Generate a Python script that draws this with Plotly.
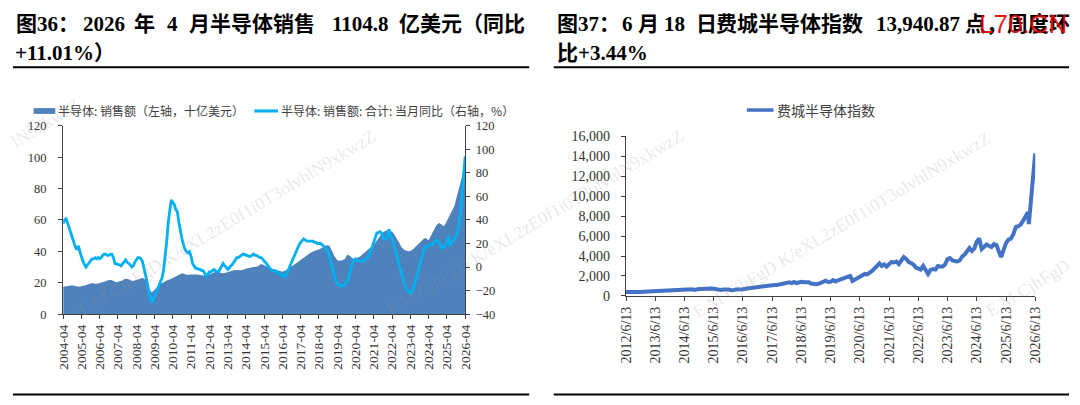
import pandas as pd
import plotly.graph_objects as go

# ---------------- Figure 36: monthly semiconductor sales ----------------
sales_start = "2004-04-01"
# 3MMA sales, USD bn (left axis), 2004-04 .. 2026-04
sales_bn = [
    17.4, 17.6, 17.8, 18.0, 18.3, 18.5, 18.4, 18.1, 17.8, 17.6, 17.5, 17.6,
    17.7, 17.9, 18.2, 18.6, 19.0, 19.4, 19.7, 19.8, 19.6, 19.4, 19.3, 19.6,
    19.8, 20.0, 20.3, 20.6, 21.0, 21.4, 21.7, 21.9, 21.6, 21.1, 20.5, 20.4,
    20.6, 20.8, 21.1, 21.5, 22.2, 22.6, 22.5, 22.1, 21.6, 21.3, 21.2, 21.5,
    21.9, 22.3, 22.7, 23.0, 23.1, 22.8, 22.0, 20.4, 17.8, 15.2, 14.0, 14.4,
    15.6, 16.6, 17.6, 18.5, 19.3, 19.9, 20.5, 21.1, 21.6, 21.9, 22.1, 22.6,
    23.2, 23.8, 24.3, 24.8, 25.3, 25.8, 26.0, 25.7, 25.3, 25.0, 24.9, 25.2,
    25.3, 25.1, 25.2, 25.4, 25.3, 25.1, 24.9, 24.7, 24.6, 24.5, 24.6, 24.9,
    25.5, 26.0, 26.3, 26.6, 27.0, 26.8, 26.5, 26.1, 25.9, 26.0, 26.3, 26.5,
    26.6, 26.8, 27.1, 27.4, 27.9, 28.2, 28.1, 27.9, 27.7, 27.9, 28.3, 28.7,
    29.0, 29.2, 29.4, 29.6, 29.8, 30.0, 29.9, 30.1, 30.6, 31.3, 32.0, 31.6,
    31.1, 30.6, 30.2, 29.8, 29.4, 29.0, 28.8, 28.6, 28.3, 27.9, 27.6, 27.4,
    27.0, 27.2, 27.8, 28.5, 29.3, 30.0, 30.6, 31.2, 31.8, 32.5, 33.1, 33.7,
    34.6, 35.3, 36.0, 36.8, 37.5, 38.2, 38.8, 39.4, 39.9, 40.2, 40.6, 41.0,
    41.2, 41.6, 42.2, 42.8, 43.4, 43.8, 44.0, 43.2, 41.5, 39.5, 37.0, 35.5,
    34.5, 34.1, 34.0, 34.2, 34.6, 35.2, 37.0, 38.0, 37.4, 36.4, 35.6, 35.2,
    35.4, 35.8, 36.2, 36.8, 37.6, 38.4, 39.2, 40.0, 41.0, 42.0, 42.6, 43.3,
    44.2, 45.5, 47.0, 48.5, 49.8, 51.0, 52.0, 52.8, 53.3, 53.5, 53.3, 53.0,
    52.5, 51.5, 50.0, 48.5, 47.0, 45.0, 43.0, 41.8, 41.0, 40.5, 40.0, 40.0,
    40.3, 40.8, 41.5, 42.5, 43.5, 44.5, 45.5, 46.5, 47.5, 48.2, 48.5, 47.8,
    47.0, 49.0, 51.0, 53.0, 55.0, 56.5, 57.5, 58.0, 57.5, 56.5, 56.0, 57.5,
    59.5, 61.5, 63.0, 65.0, 67.0, 69.0, 73.0, 77.0, 81.0, 84.0, 88.0, 91.0,
    95.0,
]
# YoY %, right axis, 2004-04 .. 2026-04
sales_yoy = [
    37, 40, 41, 37, 33, 28, 24, 20, 17, 15, 18, 13,
    8, 5, 2, 0, 2, 4, 6, 7, 7, 8, 7, 8,
    7, 8, 10, 11, 11, 10, 10, 11, 11, 8, 3, 3,
    2, 2, 1, 3, 5, 6, 4, 3, 2, 0, 1, 4,
    6, 8, 8, 7, 5, 0, -5, -12, -19, -26, -30, -28,
    -25, -22, -19, -16, -13, -9, -2, 8, 22, 38, 50, 57,
    55, 53, 49, 47, 38, 30, 24, 19, 15, 13, 12, 13,
    9, 3, 1, -1, -1, -2, -2, -3, -3, -5, -8, -6,
    -4, -4, -3, -2, -3, -4, -4, -2, 0, 3, 1, 0,
    -2, -1, 1, 2, 4, 6, 8, 8, 9, 10, 11, 11,
    10, 10, 9, 9, 10, 11, 10, 10, 9, 8, 8, 7,
    5, 4, 2, 0, -2, -3, -3, -3, -4, -5, -6, -6,
    -7, -7, -8, -5, -2, 1, 5, 8, 11, 14, 17, 19,
    21, 23, 24, 23, 22, 22, 22, 22, 22, 21, 21, 20,
    20, 20, 19, 18, 16, 15, 13, 8, 3, -2, -8, -11,
    -14, -15, -16, -16, -16, -15, -13, -11, -6, -1, 4, 6,
    7, 6, 5, 5, 5, 5, 6, 7, 8, 10, 13, 17,
    21, 26, 29, 29, 30, 29, 25, 24, 24, 27, 32, 26,
    24, 20, 15, 10, 5, 0, -5, -9, -14, -17, -20, -21,
    -22, -21, -18, -14, -9, -4, 1, 6, 11, 15, 17, 18,
    18, 19, 19, 20, 21, 23, 22, 21, 18, 16, 17, 18,
    21, 27, 19, 20, 22, 24, 26, 30, 36, 47, 62, 78,
    94,
]
x1_ticktext = ["2004-04", "2005-04", "2006-04", "2007-04", "2008-04", "2009-04",
               "2010-04", "2011-04", "2012-04", "2013-04", "2014-04", "2015-04",
               "2016-04", "2017-04", "2018-04", "2019-04", "2020-04", "2021-04",
               "2022-04", "2023-04", "2024-04", "2025-04", "2026-04"]
legend_sales = "半导体: 销售额（左轴，十亿美元）"
legend_yoy = "半导体: 销售额: 合计: 当月同比（右轴，%）"

# ---------------- Figure 37: Philadelphia Semiconductor Index ----------------
sox_first_month = "2012-06-13"
sox_monthly = [
    390, 375, 405, 420, 385, 365, 390,
    415, 430, 445, 440, 490, 475, 505, 495, 510, 530, 545, 560,
    565, 575, 595, 590, 610, 635, 650, 665, 670, 590, 680, 680,
    680, 715, 705, 700, 745, 720, 665, 640, 600, 630, 690, 650,
    600, 560, 650, 640, 660, 665, 720, 760, 770, 790, 820, 880,
    910, 960, 990, 1000, 1080, 1080, 1100, 1100, 1150, 1240, 1310, 1260,
    1370, 1290, 1400, 1290, 1380, 1420, 1380, 1360, 1370, 1240, 1180, 1170,
    1220, 1350, 1400, 1530, 1390, 1410, 1590, 1450, 1570, 1600, 1730, 1830,
    1930, 1990, 1500, 1650, 1780, 1980, 2100, 2200, 2150, 2300, 2500, 2750,
    3050, 3250, 3000, 3150, 2950, 3200, 3400, 3350, 3450, 3200, 3650, 3900,
    3700, 3400, 3300, 3150, 2850, 2700, 2650, 3000, 2500, 2200, 2600, 2700,
    2650, 3000, 2950, 2950, 3150, 3700, 3800, 3550, 3500, 3450, 3550, 3950,
    4150, 4450, 4800, 4500, 4750, 5450, 5750, 4700, 4900, 5150, 5000, 4900,
    5200, 5100, 4500, 3900, 4600, 5300, 5650, 5750, 6200, 6900, 7000, 7150,
    7550, 8000, 8400,
]
sox_extra_dates = ["2026-03-25", "2026-04-13", "2026-04-27", "2026-05-13",
                   "2026-05-27", "2026-06-05", "2026-06-12"]
sox_extra = [7200, 9000, 10800, 12300, 12600, 13600, 14300]
x3_tickvals = ["2012-06-13", "2013-06-13", "2014-06-13", "2015-06-13", "2016-06-13",
               "2017-06-13", "2018-06-13", "2019-06-13", "2020-06-13", "2021-06-13",
               "2022-06-13", "2023-06-13", "2024-06-13", "2025-06-13", "2026-06-13"]
x3_ticktext = ["2012/6/13", "2013/6/13", "2014/6/13", "2015/6/13", "2016/6/13",
               "2017/6/13", "2018/6/13", "2019/6/13", "2020/6/13", "2021/6/13",
               "2022/6/13", "2023/6/13", "2024/6/13", "2025/6/13", "2026/6/13"]
legend_sox = "费城半导体指数"

title36_line1 = [("图36：", 6), ("2026", 74), ("年", 126), ("4", 159),
                 ("月半导体销售", 182), ("1104.8", 327), ("亿美元（同比", 395)]
title36_line2 = "+11.01%）"
title37_line1 = [("图37：", 555), ("6", 621), ("月", 637), ("18", 664), ("日", 696),
                 ("费城半导体指数", 717), ("13,940.87", 879), ("点，周度环", 969)]
title37_line2 = "比+3.44%"
overlay_mark = "L70.CN"
watermark = "E M CjhFgD K/eXL2zE0f1i0T3olvhlN9xkwzZ"
watermark_head = "E M CjhFgD"
watermark_tail = "lN9xkwzZ"

# ---------------- build ----------------
W, H = 1080, 405
def px(x): return x / W
def py(y): return 1 - y / H

months = pd.date_range(sales_start, periods=len(sales_bn), freq="MS")
x1_tickvals = [t + "-01" for t in x1_ticktext]
sox_dates = list(pd.date_range(sox_first_month, periods=len(sox_monthly),
                               freq=pd.DateOffset(months=1)).strftime("%Y-%m-%d")) + sox_extra_dates
sox_values = sox_monthly + sox_extra

SERIF = "Liberation Serif, Times New Roman, serif"
TITLEF = "Liberation Serif, Noto Sans CJK SC, serif"
CJK = "Noto Sans CJK SC, sans-serif"
AX = "#404040"

fig = go.Figure()
fig.add_trace(go.Scatter(x=months, y=sales_bn, mode="lines", fill="tozeroy",
                         fillcolor="#4F81BD", line=dict(width=0, color="#4F81BD"),
                         xaxis="x", yaxis="y", name=legend_sales))
fig.add_trace(go.Scatter(x=months, y=sales_yoy, mode="lines",
                         line=dict(color="#00B0F0", width=2.8),
                         xaxis="x", yaxis="y2", name=legend_yoy))
fig.add_trace(go.Scatter(x=sox_dates, y=sox_values, mode="lines",
                         line=dict(color="#4472C4", width=4),
                         xaxis="x3", yaxis="y3", name=legend_sox))

common = dict(showgrid=False, zeroline=False, showline=True, linecolor=AX, linewidth=1.3,
              ticks="outside", ticklen=4, tickcolor=AX, tickwidth=1.2)

fig.update_layout(
    width=W, height=H, margin=dict(l=0, r=0, t=0, b=0),
    paper_bgcolor="white", plot_bgcolor="white", showlegend=False,
    xaxis=dict(domain=[px(56), px(464)], anchor="y", type="date",
               range=["2004-04-01", "2026-04-01"], tickmode="array",
               tickvals=x1_tickvals, ticktext=x1_ticktext, tickangle=-90,
               tickfont=dict(family=SERIF, size=13.5, color="#333"), **common),
    yaxis=dict(domain=[py(319), py(123.3)], anchor="x", range=[0, 120], dtick=20,
               tickfont=dict(family=SERIF, size=12.5, color="#333"),
               ticklabelstandoff=9, **common),
    yaxis2=dict(overlaying="y", side="right", anchor="x", range=[-40, 120], dtick=20,
                tickfont=dict(family=SERIF, size=12.5, color="#333"),
                ticklabelstandoff=3, **common),
    xaxis3=dict(domain=[px(627.3), px(1042.7)], anchor="y3", type="date",
                range=["2012-06-13", "2026-06-13"], tickmode="array",
                tickvals=x3_tickvals, ticktext=x3_ticktext, tickangle=-90,
                tickfont=dict(family=SERIF, size=14, color="#333"), **common),
    yaxis3=dict(domain=[py(300), py(134.4)], anchor="x3", range=[0, 16000], dtick=2000,
                tickformat=",d", tickfont=dict(family=SERIF, size=14, color="#333"),
                ticklabelstandoff=8, **common),
)

ann = []
def text(t, x, y, size, family, color="#000", xanchor="left", angle=0, bold=False):
    ann.append(dict(text=("<b>%s</b>" % t) if bold else t, x=px(x), y=py(y),
                    xref="paper", yref="paper", xanchor=xanchor, yanchor="middle",
                    showarrow=False, textangle=angle,
                    font=dict(family=family, size=size, color=color)))

# watermarks (faint, diagonal)
WM = "rgba(150,150,150,0.22)"
text(watermark_tail, 38, 120, 18, SERIF, color=WM, xanchor="center", angle=-31)
for cx, cy in [(222, 224), (534, 224), (846, 226)]:
    text(watermark, cx, cy, 18, SERIF, color=WM, xanchor="center", angle=-31)
text(watermark_head, 1035, 292, 18, SERIF, color=WM, xanchor="center", angle=-31)

# titles
for t, x in title36_line1:
    text(t, x, 18, 21, TITLEF, bold=True)
text(title36_line2, 5, 48, 21, TITLEF, bold=True)
for t, x in title37_line1:
    text(t, x, 18, 21, TITLEF, bold=True)
text(title37_line2, 555, 48, 21, TITLEF, bold=True)
text(overlay_mark, 984, 18, 26, "Liberation Sans, Arial, sans-serif", color="rgba(228,0,0,0.92)")

# legends
text(legend_sales, 49, 108, 12, CJK, color="#404040")
text(legend_yoy, 275, 108, 12, CJK, color="#404040")
text(legend_sox, 779, 107, 14, CJK, color="#404040")

shapes = [
    dict(type="rect", xref="paper", yref="paper", x0=px(26), x1=px(48), y0=py(111), y1=py(105),
         fillcolor="#4F81BD", line=dict(width=0)),
    dict(type="line", xref="paper", yref="paper", x0=px(250), x1=px(274), y0=py(108), y1=py(108),
         line=dict(color="#00B0F0", width=3)),
    dict(type="line", xref="paper", yref="paper", x0=px(750), x1=px(777), y0=py(107), y1=py(107),
         line=dict(color="#4472C4", width=3.5)),
]
for x0, x1 in [(5, 529), (554, 1077)]:
    shapes.append(dict(type="line", xref="paper", yref="paper", x0=px(x0), x1=px(x1),
                       y0=py(62.5), y1=py(62.5), line=dict(color="#000", width=2)))
    shapes.append(dict(type="line", xref="paper", yref="paper", x0=px(x0), x1=px(x1),
                       y0=py(402.5), y1=py(402.5), line=dict(color="#000", width=2)))

fig.update_layout(annotations=ann, shapes=shapes)
fig.write_html("out.html")
